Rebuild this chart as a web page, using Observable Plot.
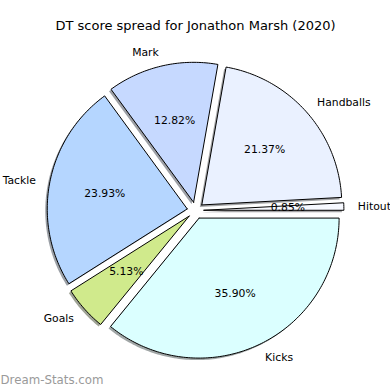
<!DOCTYPE html>
<html>
<head>
<meta charset="utf-8">
<script src="https://cdn.jsdelivr.net/npm/d3@7"></script>
<script src="https://cdn.jsdelivr.net/npm/@observablehq/plot@0.6"></script>
<style>
  html, body { margin: 0; padding: 0; background: #fff; }
  #chart { width: 390px; height: 390px; }
</style>
</head>
<body>
<div id="chart"></div>
<script>
const title = "DT score spread for Jonathon Marsh (2020)";
const watermark = "Dream-Stats.com";
const labels = ["Hitout", "Handballs", "Mark", "Tackle", "Goals", "Kicks"];
const values = [1, 25, 15, 28, 6, 42];
const colors = ["#f7f9ff", "#eaf1ff", "#c6d9ff", "#b5d6ff", "#d0ea8c", "#dbffff"];
const explode = 0.06;

const total = d3.sum(values);
let acc = 0;
const wedges = labels.map((label, i) => {
  const a0 = acc / total * 2 * Math.PI;
  acc += values[i];
  const a1 = acc / total * 2 * Math.PI;
  const mid = (a0 + a1) / 2;
  const cx = explode * Math.cos(mid), cy = explode * Math.sin(mid);
  const pct = (values[i] / total * 100).toFixed(2) + "%";
  const c = d3.rgb(colors[i]);
  const sh = d3.rgb(255 - 0.5 * (255 - 0.3 * c.r), 255 - 0.5 * (255 - 0.3 * c.g), 255 - 0.5 * (255 - 0.3 * c.b)).formatHex();
  return {label, color: colors[i], shadow: sh, a0, a1, mid, cx, cy, pct};
});

const pts = [];
for (const w of wedges) {
  pts.push({label: w.label, color: w.color, shadow: w.shadow, x: w.cx, y: w.cy});
  const n = Math.max(4, Math.ceil((w.a1 - w.a0) / (Math.PI / 180)));
  for (let k = 0; k <= n; k++) {
    const a = w.a0 + (w.a1 - w.a0) * k / n;
    pts.push({label: w.label, color: w.color, shadow: w.shadow, x: w.cx + Math.cos(a), y: w.cy + Math.sin(a)});
  }
  pts.push({label: w.label, color: w.color, shadow: w.shadow, x: w.cx, y: w.cy});
}

const labelPts = wedges.map(w => ({
  label: w.label,
  x: w.cx + 1.1 * Math.cos(w.mid),
  y: w.cy + 1.1 * Math.sin(w.mid),
  right: Math.cos(w.mid) >= 0
}));
const pctPts = wedges.map(w => ({
  pct: w.pct,
  x: w.cx + 0.6 * Math.cos(w.mid),
  y: w.cy + 0.6 * Math.sin(w.mid)
}));

const R = 140, CX = 195, CY = 210, W = 390, H = 390;
const font = "DejaVu Sans, sans-serif";
const fs = 10.8;

const chart = Plot.plot({
  width: W, height: H, margin: 0,
  style: {fontFamily: font, background: "#fff", overflow: "visible"},
  x: {domain: [-CX / R, (W - CX) / R], axis: null},
  y: {domain: [(CY - H) / R, CY / R], axis: null},
  marks: [
    Plot.line(pts, {x: "x", y: "y", z: "label", fill: d => d.shadow, stroke: "none", dx: -2, dy: 2}),
    Plot.line(pts, {x: "x", y: "y", z: "label", fill: d => d.color, stroke: "#000", strokeWidth: 1, strokeLinejoin: "miter"}),
    Plot.text(pctPts, {x: "x", y: "y", text: "pct", fontSize: fs, fill: "#000"}),
    Plot.text(labelPts.filter(d => d.right), {x: "x", y: "y", text: "label", textAnchor: "start", fontSize: fs, fill: "#000"}),
    Plot.text(labelPts.filter(d => !d.right), {x: "x", y: "y", text: "label", textAnchor: "end", fontSize: fs, fill: "#000"}),
    Plot.text([title], {frameAnchor: "top", lineAnchor: "middle", dy: 25, fontSize: 13, fill: "#000"}),
    Plot.text([watermark], {frameAnchor: "bottom-left", lineAnchor: "middle", textAnchor: "start", dx: 0, dy: -10, fontSize: 11.8, fill: "#9a9a9a"})
  ]
});
document.getElementById("chart").appendChild(chart);
</script>
</body>
</html>
